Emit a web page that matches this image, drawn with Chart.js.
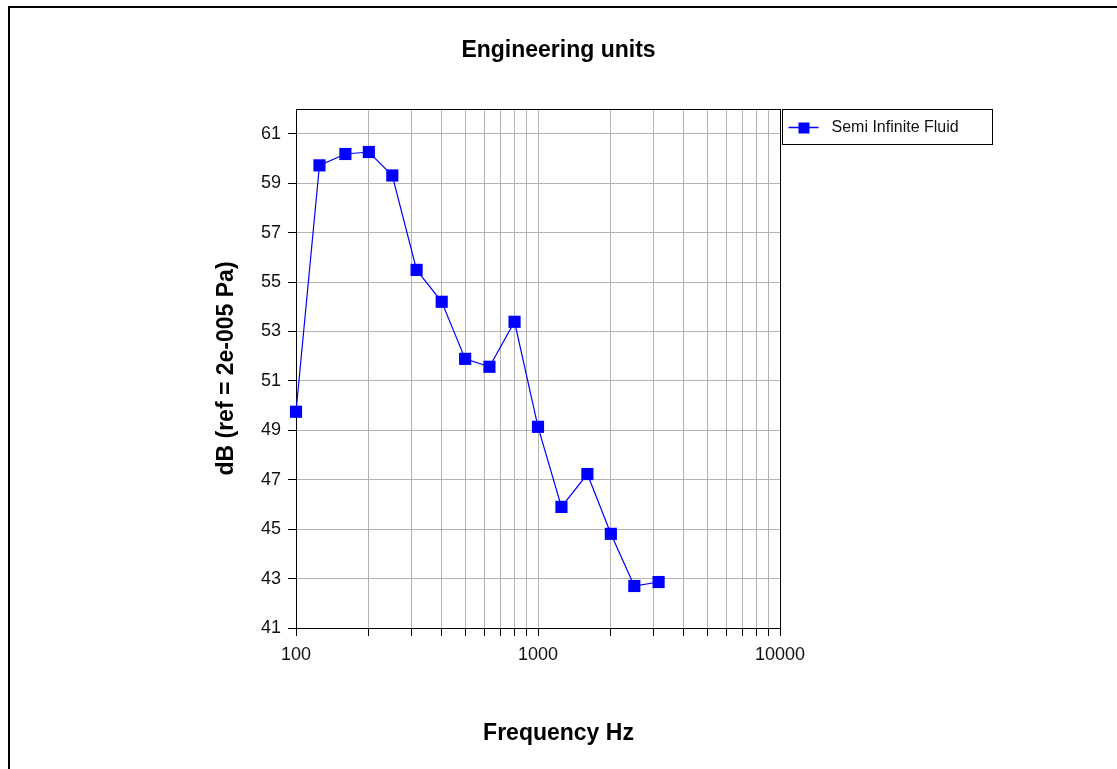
<!DOCTYPE html>
<html>
<head>
<meta charset="utf-8">
<script src="https://cdn.jsdelivr.net/npm/chart.js@4.4.1/dist/chart.umd.min.js"></script>
<style>
  html, body { margin: 0; padding: 0; background: #fff; }
  #frame { position: absolute; left: 8px; top: 6px; width: 1120px; height: 780px;
           border-top: 2px solid #000; border-left: 2px solid #000; }
  #c { position: absolute; left: 0; top: 0; }
</style>
</head>
<body>
<div id="frame"></div>
<canvas id="c" width="1117" height="769"></canvas>
<script>
// ---- data ----
const frequencies = [100, 125, 160, 200, 250, 315, 400, 500, 630, 800, 1000, 1250, 1600, 2000, 2500, 3150];
const semiInfiniteFluid = [49.75, 59.72, 60.18, 60.26, 59.31, 55.49, 54.2, 51.89, 51.57, 53.39, 49.14, 45.9, 47.23, 44.81, 42.7, 42.86];
const seriesLabel = 'Semi Infinite Fluid';
const yTicks = [41, 43, 45, 47, 49, 51, 53, 55, 57, 59, 61];
const xLabels = [100, 1000, 10000];
const xGrid = [100, 200, 300, 400, 500, 600, 700, 800, 900,
               1000, 2000, 3000, 4000, 5000, 6000, 7000, 8000, 9000, 10000];
const titleText = 'Engineering units';
const xTitle = 'Frequency Hz';
const yTitle = 'dB (ref = 2e-005 Pa)';

const FONT = "'Liberation Sans', Arial, sans-serif";

const framePlugin = {
  id: 'frame',
  beforeDatasetsDraw(chart) {
    const a = chart.chartArea, ctx = chart.ctx;
    ctx.save();
    ctx.strokeStyle = '#000';
    ctx.lineWidth = 1;
    ctx.strokeRect(Math.round(a.left) + 0.5, Math.round(a.top) + 0.5,
                   Math.round(a.right - a.left), Math.round(a.bottom - a.top));
    ctx.restore();
  }
};

const legendPlugin = {
  id: 'boxLegend',
  afterDraw(chart) {
    const a = chart.chartArea, ctx = chart.ctx;
    const ds = chart.data.datasets[0];
    const x0 = Math.round(a.right) + 2.5, y0 = Math.round(a.top) + 0.5;
    const w = 210, h = 35;
    ctx.save();
    ctx.fillStyle = '#fff';
    ctx.fillRect(x0, y0, w, h);
    ctx.strokeStyle = '#000';
    ctx.lineWidth = 1;
    ctx.strokeRect(x0, y0, w, h);
    const cy = y0 + 18;
    ctx.strokeStyle = ds.borderColor;
    ctx.lineWidth = 1.5;
    ctx.beginPath();
    ctx.moveTo(x0 + 6, cy);
    ctx.lineTo(x0 + 36, cy);
    ctx.stroke();
    ctx.fillStyle = ds.backgroundColor;
    ctx.fillRect(x0 + 16, cy - 5, 11, 11);
    ctx.fillStyle = '#111';
    ctx.font = '16px ' + FONT;
    ctx.textBaseline = 'middle';
    ctx.textAlign = 'left';
    ctx.fillText(ds.label, x0 + 49, cy);
    ctx.restore();
  }
};

new Chart(document.getElementById('c'), {
  type: 'line',
  data: {
    datasets: [{
      label: seriesLabel,
      data: frequencies.map((f, i) => ({ x: f, y: semiInfiniteFluid[i] })),
      borderColor: '#0000ff',
      backgroundColor: '#0000ff',
      borderWidth: 1.2,
      pointStyle: 'rect',
      pointRadius: 8.6,
      pointBorderWidth: 0,
      tension: 0,
      clip: false
    }]
  },
  options: {
    responsive: false,
    animation: false,
    devicePixelRatio: 1,
    layout: { padding: 0 },
    plugins: {
      legend: { display: false },
      tooltip: { enabled: false },
      title: {
        display: true, text: titleText, color: '#000',
        font: { family: FONT, size: 23, weight: 'bold' },
        padding: { top: 37.2, bottom: 44.2 }
      },
      subtitle: {
        display: true, position: 'bottom', text: xTitle, color: '#000',
        font: { family: FONT, size: 23, weight: 'bold' },
        padding: { top: 0, bottom: 21.7 }
      }
    },
    scales: {
      x: {
        type: 'logarithmic',
        position: 'bottom',
        min: 100, max: 10000,
        afterBuildTicks: s => { s.ticks = xGrid.map(v => ({ value: v })); },
        afterFit: s => { s.height = 91.7; },
        ticks: {
          autoSkip: false, maxRotation: 0, minRotation: 0,
          color: '#111', padding: 8,
          font: { family: FONT, size: 18 },
          callback: v => (xLabels.includes(v) ? String(v) : '')
        },
        grid: { color: '#b4b4b4', tickColor: '#000', tickLength: 8, lineWidth: 1 },
        border: { color: '#000', width: 1 }
      },
      y: {
        position: 'left',
        min: 41, max: 62,
        afterBuildTicks: s => { s.ticks = yTicks.map(v => ({ value: v })); },
        afterFit: s => { s.width = 296; },
        ticks: { color: '#111', padding: 7, font: { family: FONT, size: 18 } },
        grid: { color: '#b4b4b4', tickColor: '#000', tickLength: 8, lineWidth: 1 },
        border: { color: '#000', width: 1 },
        title: {
          display: true, text: yTitle, color: '#000',
          font: { family: FONT, size: 23, weight: 'bold' },
          padding: { top: 213.2, bottom: 0 }
        }
      },
      rightSpace: {
        position: 'right',
        display: true,
        ticks: { display: false },
        grid: { display: false },
        border: { display: false },
        afterFit: s => { s.width = 337; }
      }
    }
  },
  plugins: [framePlugin, legendPlugin]
});
</script>
</body>
</html>
